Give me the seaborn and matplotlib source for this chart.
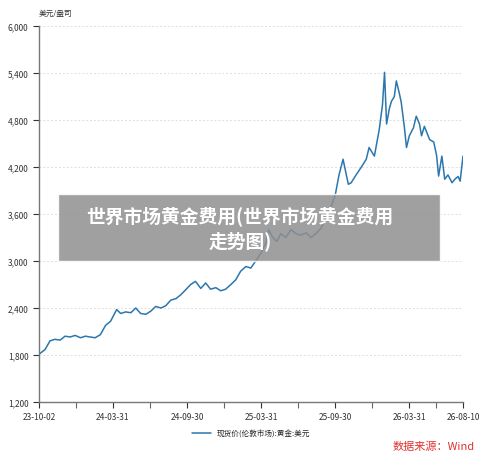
import pandas as pd
import seaborn as sns
import matplotlib.pyplot as plt
from matplotlib.ticker import FuncFormatter, MultipleLocator

sns.set_theme(style="white")
plt.rcParams["font.family"] = ["Noto Sans CJK SC", "DejaVu Sans"]

dates = ["2023-10-02", "2023-10-17", "2023-10-29", "2023-11-10", "2023-11-23", "2023-12-05",
         "2023-12-18", "2023-12-30", "2024-01-12", "2024-01-24", "2024-02-05", "2024-02-17",
         "2024-03-01", "2024-03-14", "2024-03-26", "2024-04-02", "2024-04-10", "2024-04-20",
         "2024-05-02", "2024-05-15", "2024-05-27", "2024-06-08", "2024-06-21", "2024-07-03",
         "2024-07-15", "2024-07-28", "2024-08-09", "2024-08-21", "2024-09-03", "2024-09-15",
         "2024-09-30", "2024-10-09", "2024-10-21", "2024-11-03", "2024-11-15", "2024-11-27",
         "2024-12-10", "2024-12-22", "2025-01-03", "2025-01-16", "2025-01-28", "2025-02-09",
         "2025-02-22", "2025-03-06", "2025-03-18", "2025-03-31", "2025-04-12", "2025-04-19",
         "2025-04-29", "2025-05-09", "2025-05-19", "2025-05-31", "2025-06-13", "2025-06-25",
         "2025-07-07", "2025-07-20", "2025-08-01", "2025-08-13", "2025-08-26", "2025-09-07",
         "2025-09-20", "2025-09-30", "2025-10-09", "2025-10-19", "2025-10-27", "2025-11-01",
         "2025-11-08", "2025-11-20", "2025-12-03", "2025-12-15", "2025-12-22", "2026-01-04",
         "2026-01-16", "2026-01-24", "2026-01-29", "2026-02-03", "2026-02-10", "2026-02-15",
         "2026-02-22", "2026-02-27", "2026-03-06", "2026-03-11", "2026-03-19", "2026-03-24",
         "2026-03-31", "2026-04-10", "2026-04-17", "2026-04-25", "2026-04-30", "2026-05-07",
         "2026-05-20", "2026-05-30", "2026-06-06", "2026-06-11", "2026-06-19", "2026-06-26",
         "2026-07-04", "2026-07-14", "2026-07-21", "2026-07-29", "2026-08-03", "2026-08-10"]
prices = [1810, 1870, 1980, 2000, 1990, 2040, 2030, 2050, 2020, 2040, 2030, 2020,
          2060, 2180, 2230, 2300, 2380, 2330, 2350, 2340, 2400, 2330, 2320, 2360,
          2420, 2400, 2430, 2500, 2520, 2570, 2650, 2700, 2740, 2650, 2720, 2640,
          2660, 2620, 2640, 2700, 2760, 2870, 2930, 2910, 3000, 3100, 3230, 3400,
          3300, 3250, 3350, 3300, 3400, 3350, 3330, 3360, 3300, 3350, 3420, 3550,
          3700, 3850, 4100, 4300, 4100, 3980, 4000, 4100, 4200, 4300, 4450, 4340,
          4680, 5000, 5410, 4750, 4950, 5040, 5100, 5300, 5150, 5030, 4700, 4450,
          4600, 4700, 4850, 4750, 4600, 4720, 4550, 4520, 4350, 4085, 4340, 4045,
          4100, 4000, 4045, 4080, 4020, 4340]
tick_dates = ["2023-10-02", "2024-03-31", "2024-09-30", "2025-03-31", "2025-09-30",
              "2026-03-31", "2026-08-10"]
series_name = "现货价(伦敦市场):黄金:美元"

df = pd.DataFrame({"date": pd.to_datetime(dates), "price": prices})

fig = plt.figure(figsize=(5, 4.6), dpi=100)
ax = fig.add_axes([0.078, 0.124, 0.848, 0.817])
sns.lineplot(data=df, x="date", y="price", ax=ax, color="#2b77ad", linewidth=1.1,
             label=series_name)

ax.set_xlim(df["date"].iloc[0], df["date"].iloc[-1])
ax.set_ylim(1200, 6000)
ax.yaxis.set_major_locator(MultipleLocator(600))
ax.yaxis.set_major_formatter(FuncFormatter(lambda v, p: f"{int(v):,}"))
ticks = pd.to_datetime(tick_dates)
ax.set_xticks(ticks)
ax.set_xticklabels([t.strftime("%y-%m-%d") for t in ticks])
minor = [ticks[i] + (ticks[i + 1] - ticks[i]) / 2 for i in range(len(ticks) - 1)]
ax.set_xticks(minor, minor=True)
ax.tick_params(axis="both", labelsize=6, colors="#333333", length=4, width=0.8,
               direction="out", bottom=True, left=True)
ax.tick_params(axis="x", which="minor", length=4, width=0.8, bottom=True, color="#666666")
ax.grid(axis="y", linestyle=(0, (2, 2)), color="#dddddd", linewidth=0.7)
for s in ["top", "right"]:
    ax.spines[s].set_visible(False)
for s in ["left", "bottom"]:
    ax.spines[s].set_color("#777777")
    ax.spines[s].set_linewidth(1)
ax.set_xlabel("")
ax.set_ylabel("")
ax.text(-0.0, 1.03, "美元/盎司", transform=ax.transAxes, fontsize=5.5, color="#333333",
        ha="left")
ax.legend(loc="upper center", bbox_to_anchor=(0.5, -0.055), frameon=False, fontsize=5.5,
          handlelength=2.5)

fig.patches.append(plt.Rectangle((0.116, 0.43), 0.764, 0.146, transform=fig.transFigure,
                                 facecolor="#8f8f8f", alpha=0.85, zorder=5))
fig.text(0.48, 0.503, "世界市场场黄金费用(世界市场场黄金费用\n走势图)".replace("场场", "场"),
         ha="center", va="center", fontsize=13.5, fontweight="bold", color="white",
         zorder=6, linespacing=1.3)
fig.text(0.95, 0.022, "数据来源：Wind", ha="right", fontsize=8, color="#e03030")

fig.savefig("out.png", dpi=100)
